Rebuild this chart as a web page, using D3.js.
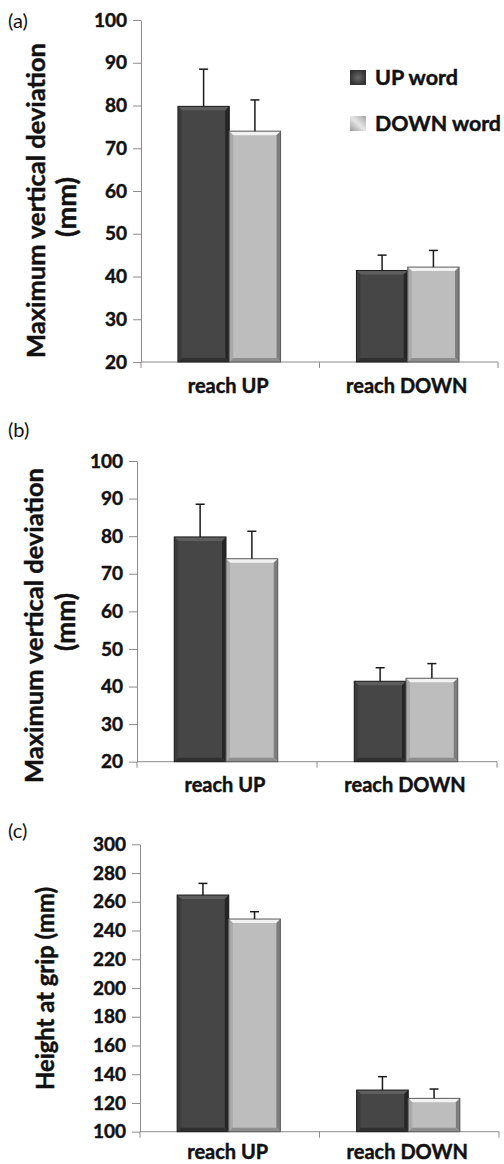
<!DOCTYPE html>
<html>
<head>
<meta charset="utf-8">
<script src="https://cdn.jsdelivr.net/npm/d3@7"></script>
<style>
  body { margin: 0; background: #fff; }
  text { font-family: Lato, "Open Sans", sans-serif; fill: #111; }
  text.heavy { stroke: #111; stroke-width: 0.45; }
</style>
</head>
<body>
<svg id="chart"></svg>
<script>
const categories = ["reach UP", "reach DOWN"];
const series = ["UP word", "DOWN word"];

// (a) and (b): maximum vertical deviation (mm)
const devUpWord = [79.8, 41.4];
const devDownWord = [74.0, 42.2];
const devUpWordErr = [8.7, 3.6];
const devDownWordErr = [7.3, 3.9];
const devTicks = [20, 30, 40, 50, 60, 70, 80, 90, 100];

// (c): height at grip (mm)
const gripUpWord = [264.7, 129.0];
const gripDownWord = [248.0, 123.2];
const gripUpWordErr = [8.1, 9.3];
const gripDownWordErr = [5.1, 6.5];
const gripTicks = [100, 120, 140, 160, 180, 200, 220, 240, 260, 280, 300];

const W = 504, H = 1164;
const svg = d3.select('#chart').attr('width', W).attr('height', H);

const panels = [
  { tag: '(a)', tagY: 28, left: 141, right: 498, top: 20, bottom: 362, catY: 393,
    ticks: devTicks, up: devUpWord, down: devDownWord, upErr: devUpWordErr, downErr: devDownWordErr,
    title: [{ t: 'Maximum vertical deviation', x: 45, y: 200.5, len: 315 },
            { t: '(mm)', x: 76, y: 207, len: 60 }],
    legend: true },
  { tag: '(b)', tagY: 437, left: 137, right: 497, top: 461, bottom: 761.7, catY: 792,
    ticks: devTicks, up: devUpWord, down: devDownWord, upErr: devUpWordErr, downErr: devDownWordErr,
    title: [{ t: 'Maximum vertical deviation', x: 43, y: 625.5, len: 315 },
            { t: '(mm)', x: 75, y: 622, len: 58 }],
    legend: false },
  { tag: '(c)', tagY: 838, left: 140, right: 499, top: 844.3, bottom: 1131.7, catY: 1159,
    ticks: gripTicks, up: gripUpWord, down: gripDownWord, upErr: gripUpWordErr, downErr: gripDownWordErr,
    title: [{ t: 'Height at grip (mm)', x: 54, y: 988.5, len: 203 }],
    legend: false }
];

const styles = {
  'UP word':   { body: '#464646', top: '#5e5e5e', left: '#3c3c3c', right: '#262626', bottom: '#303030', edge: '#1e1e1e' },
  'DOWN word': { body: '#bdbdbd', top: '#f2f2f2', left: '#a9a9a9', right: '#7d7d7d', bottom: '#8e8e8e', edge: '#5a5a5a' }
};

// legend swatch gradients
const defs = svg.append('defs');
const g1 = defs.append('radialGradient').attr('id', 'swUp');
g1.append('stop').attr('offset', '0%').attr('stop-color', '#6a6a6a');
g1.append('stop').attr('offset', '100%').attr('stop-color', '#333');
const g2 = defs.append('linearGradient').attr('id', 'swDown')
  .attr('x1', '0%').attr('y1', '100%').attr('x2', '100%').attr('y2', '0%');
g2.append('stop').attr('offset', '0%').attr('stop-color', '#9a9a9a');
g2.append('stop').attr('offset', '50%').attr('stop-color', '#e6e6e6');
g2.append('stop').attr('offset', '100%').attr('stop-color', '#a4a4a4');

function fitText(sel, len) {
  const l = sel.node().getComputedTextLength();
  const fs = parseFloat(sel.attr('font-size'));
  sel.attr('font-size', fs * len / l);
}

function bevelBar(g, x, y, w, h, st) {
  const b = Math.min(4, h / 2);
  g.append('rect').attr('x', x).attr('y', y).attr('width', w).attr('height', h)
    .attr('fill', st.body);
  const poly = pts => g.append('polygon').attr('points', pts.map(p => p.join(',')).join(' '));
  poly([[x, y], [x + w, y], [x + w - b, y + b], [x + b, y + b]]).attr('fill', st.top);
  poly([[x, y], [x + b, y + b], [x + b, y + h - b], [x, y + h]]).attr('fill', st.left);
  poly([[x + w, y], [x + w, y + h], [x + w - b, y + h - b], [x + w - b, y + b]]).attr('fill', st.right);
  poly([[x, y + h], [x + b, y + h - b], [x + w - b, y + h - b], [x + w, y + h]]).attr('fill', st.bottom);
  g.append('rect').attr('x', x).attr('y', y).attr('width', w).attr('height', h)
    .attr('fill', 'none').attr('stroke', st.edge).attr('stroke-width', 1);
}

panels.forEach(p => {
  const g = svg.append('g');
  const y = d3.scaleLinear().domain(d3.extent(p.ticks)).range([p.bottom, p.top]);
  const x = d3.scaleBand().domain(categories).range([p.left, p.right]);
  const groupW = x.bandwidth() * 0.575;
  const xs = d3.scaleBand().domain(series).range([0, groupW]);

  // y axis
  const yAxis = g.append('g').attr('transform', `translate(${p.left},0)`)
    .call(d3.axisLeft(y).tickValues(p.ticks).tickSize(8).tickPadding(6).tickSizeOuter(0));
  yAxis.select('.domain').attr('stroke', '#8c8c8c');
  yAxis.selectAll('.tick line').attr('stroke', '#8c8c8c');
  yAxis.selectAll('.tick text').attr('class', 'heavy').attr('font-size', 19).attr('font-weight', 700)
    .attr('font-family', 'Lato, sans-serif').attr('fill', '#111');

  // x axis with ticks at band boundaries
  const xAxisG = g.append('g');
  xAxisG.append('line').attr('x1', p.left).attr('x2', p.right)
    .attr('y1', p.bottom).attr('y2', p.bottom).attr('stroke', '#8c8c8c');
  const bounds = [p.left, ...categories.map(c => x(c) + x.bandwidth())];
  xAxisG.selectAll('.xt').data(bounds).join('line')
    .attr('x1', d => d).attr('x2', d => d)
    .attr('y1', p.bottom).attr('y2', p.bottom + 6).attr('stroke', '#8c8c8c');
  xAxisG.selectAll('.xl').data(categories).join('text')
    .attr('class', 'heavy')
    .attr('x', d => x(d) + x.bandwidth() / 2 - 2).attr('y', p.catY)
    .attr('text-anchor', 'middle').attr('font-size', 20).attr('font-weight', 700)
    .text(d => d);

  // bars and error bars
  const rows = [];
  categories.forEach((c, i) => {
    rows.push({ c, s: series[0], v: p.up[i], e: p.upErr[i] });
    rows.push({ c, s: series[1], v: p.down[i], e: p.downErr[i] });
  });
  const barG = g.append('g');
  rows.forEach(r => {
    const bx = x(r.c) + (x.bandwidth() - groupW) / 2 - 1 + xs(r.s);
    const by = y(r.v);
    bevelBar(barG, bx, by, xs.bandwidth(), p.bottom - by, styles[r.s]);
  });
  rows.forEach(r => {
    const cx = x(r.c) + (x.bandwidth() - groupW) / 2 - 1 + xs(r.s) + xs.bandwidth() / 2;
    const y1 = y(r.v), y2 = y(r.v + r.e);
    barG.append('line').attr('x1', cx).attr('x2', cx).attr('y1', y1).attr('y2', y2)
      .attr('stroke', '#1a1a1a').attr('stroke-width', 1.5);
    barG.append('line').attr('x1', cx - 4.5).attr('x2', cx + 4.5).attr('y1', y2).attr('y2', y2)
      .attr('stroke', '#1a1a1a').attr('stroke-width', 1.5);
  });

  // panel tag
  g.append('text').attr('x', 8).attr('y', p.tagY).attr('font-size', 20)
    .attr('font-family', '"Liberation Sans", Arial, sans-serif').text(p.tag);

  // y title
  p.title.forEach(t => {
    const tt = g.append('text').attr('class', 'heavy')
      .attr('transform', `translate(${t.x},${t.y}) rotate(-90)`)
      .attr('text-anchor', 'middle').attr('font-size', 27).attr('font-weight', 700)
      .text(t.t);
    fitText(tt, t.len);
  });

  // legend
  if (p.legend) {
    const lg = g.append('g');
    const items = [{ s: series[0], y: 70, len: 83, fill: 'url(#swUp)' },
                   { s: series[1], y: 116, len: 126, fill: 'url(#swDown)' }];
    lg.selectAll('rect').data(items).join('rect')
      .attr('x', 350).attr('y', d => d.y).attr('width', 16).attr('height', 15)
      .attr('fill', d => d.fill);
    lg.selectAll('text').data(items).join('text')
      .attr('class', 'heavy')
      .attr('x', 375).attr('y', d => d.y + 15)
      .attr('font-size', 21).attr('font-weight', 700)
      .attr('textLength', d => d.len).attr('lengthAdjust', 'spacingAndGlyphs')
      .text(d => d.s);
  }
});
</script>
</body>
</html>
